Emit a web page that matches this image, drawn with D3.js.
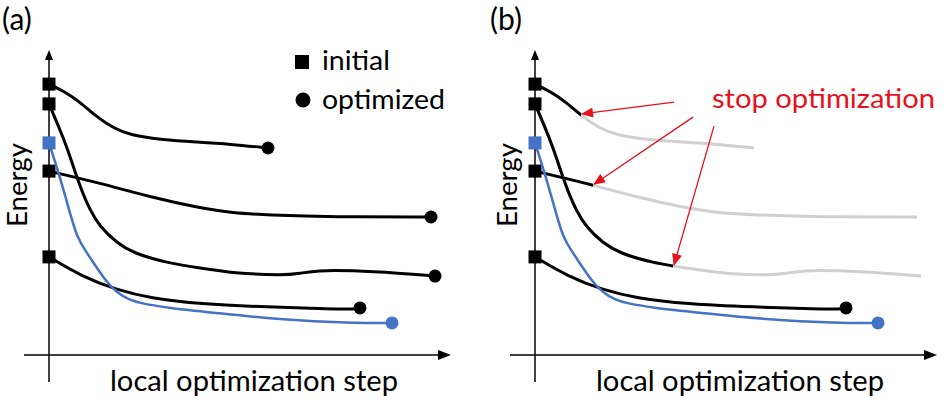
<!DOCTYPE html>
<html>
<head>
<meta charset="utf-8">
<script src="https://cdn.jsdelivr.net/npm/d3@7"></script>
<style>
  html, body { margin: 0; padding: 0; background: #fff; }
  svg { display: block; }
  text { font-family: Lato, "Open Sans", sans-serif; }
</style>
</head>
<body>
<svg id="chart" width="950" height="402"></svg>
<script>
// ---- Data (abstract units: step 0..100, energy 0..100) ----
const panelLabels = ["(a)", "(b)"];
const xLabel = "local optimization step";
const yLabel = "Energy";
const legendLabels = ["initial", "optimized"];
const annotationLabel = "stop optimization";

const curve1Steps  = [0, 4, 7.75, 12, 16, 20.25, 28.5, 37, 45.25, 54.75];
const curve1Energy = [90.3, 87.7, 84.3, 79.3, 75.7, 73.3, 71.7, 71, 70.3, 69];

const curve2Steps  = [0, 2.25, 4.5, 7.75, 10.25, 12.75, 17, 21, 29.5, 37.75, 46, 58.5, 62.75, 67, 75.25, 87.75, 96.5];
const curve2Energy = [83.7, 76.7, 69.3, 56, 48.3, 42.7, 37.3, 34, 30.7, 29, 27.3, 26.5, 27.2, 28.2, 28.2, 27.3, 26.3];

const curve3Steps  = [0, 12.75, 25.25, 37.75, 46, 54.5, 71, 95.5];
const curve3Energy = [61.3, 57.3, 52.7, 49, 47.3, 46.7, 46, 46];

const curve4Steps  = [0, 8.5, 17, 25.25, 37.75, 54.5, 71, 76.5, 77.75];
const curve4Energy = [32.7, 26, 21.7, 19, 17, 16, 15.3, 15.3, 15.7];

const blueSteps  = [0, 2.75, 5.25, 7, 9, 11, 14, 17, 20.25, 22.75, 29.5, 42, 58.5, 75.25, 85.75];
const blueEnergy = [70.7, 59.3, 47.3, 39.3, 35, 31, 25, 20.7, 18.3, 17.3, 15.7, 14, 11.7, 10.7, 10.7];

// steps at which optimization is stopped in panel (b) (null = runs to the end)
const stopSteps = [11.5, 34.5, 14.5, null, null];

// arrow tails (step, energy) for panel (b), pointing at the stop points of curves 1, 3, 2
const arrowTailSteps  = [34.75, 39.5, 44.75];
const arrowTailEnergy = [84.3, 79.3, 76.3];
const arrowTargets    = [0, 2, 1];

// ---- Build ----
const BLACK = "#000000", BLUE = "#4472c4", GRAY = "#d0d0d0", RED = "#e8101c";
const series = [
  {s: curve1Steps, e: curve1Energy, color: BLACK},
  {s: curve2Steps, e: curve2Energy, color: BLACK},
  {s: curve3Steps, e: curve3Energy, color: BLACK},
  {s: curve4Steps, e: curve4Energy, color: BLACK},
  {s: blueSteps,   e: blueEnergy,   color: BLUE}
].map((d, i) => ({...d, stop: stopSteps[i], pts: d.s.map((v, j) => [v, d.e[j]])}));

const svg = d3.select("#chart");
const x = d3.scaleLinear().domain([0, 100]).range([49, 449]);
const y = d3.scaleLinear().domain([0, 100]).range([355, 55]);
const line = d3.line().x(d => x(d[0])).y(d => y(d[1])).curve(d3.curveBasis);

const defs = svg.append("defs");
defs.append("marker").attr("id", "redhead")
  .attr("markerUnits", "userSpaceOnUse")
  .attr("viewBox", "0 0 12 10").attr("refX", 11).attr("refY", 5)
  .attr("markerWidth", 13).attr("markerHeight", 10).attr("orient", "auto")
  .append("path").attr("d", "M0,0 L12,5 L0,10 Z").attr("fill", RED);

function drawAxes(g) {
  g.append("line").attr("x1", x(0)).attr("x2", x(0)).attr("y1", 58).attr("y2", 382)
    .attr("stroke", "#000").attr("stroke-width", 1.5);
  g.append("path").attr("d", `M${x(0)},50 L${x(0)-4},60 L${x(0)+4},60 Z`).attr("fill", "#000");
  g.append("line").attr("x1", 24).attr("x2", 441).attr("y1", y(0)).attr("y2", y(0))
    .attr("stroke", "#000").attr("stroke-width", 1.5);
  g.append("path").attr("d", `M451,${y(0)} L438,${y(0)-5} L438,${y(0)+5} Z`).attr("fill", "#000");
}

function drawPanel(offset, idx, stopped) {
  const g = svg.append("g").attr("transform", `translate(${offset},0)`);
  drawAxes(g);
  g.append("text").attr("x", idx === 0 ? 2 : 4).attr("y", 30)
    .attr("font-size", 30).text(panelLabels[idx]);
  g.append("text").attr("transform", `translate(${idx === 0 ? 27 : 31},185) rotate(-90)`)
    .attr("text-anchor", "middle").attr("font-size", 27)
    .attr("textLength", 84).attr("lengthAdjust", "spacingAndGlyphs").text(yLabel);
  g.append("text").attr("x", 110).attr("y", 391).attr("font-size", 29)
    .attr("textLength", 288).attr("lengthAdjust", "spacingAndGlyphs").text(xLabel);

  series.forEach((d, i) => {
    if (stopped && d.stop != null) {
      g.append("path").attr("d", line(d.pts)).attr("fill", "none")
        .attr("stroke", GRAY).attr("stroke-width", 3);
      const cid = `clip${idx}_${i}`;
      defs.append("clipPath").attr("id", cid).append("rect")
        .attr("x", 0).attr("y", 0).attr("width", x(d.stop)).attr("height", 402);
      g.append("path").attr("d", line(d.pts)).attr("fill", "none")
        .attr("stroke", d.color).attr("stroke-width", 3).attr("clip-path", `url(#${cid})`);
    } else {
      g.append("path").attr("d", line(d.pts)).attr("fill", "none")
        .attr("stroke", d.color).attr("stroke-width", d.color === BLUE ? 2.5 : 3);
      const last = d.pts[d.pts.length - 1];
      g.append("circle").attr("cx", x(last[0])).attr("cy", y(last[1])).attr("r", 6.5).attr("fill", d.color);
    }
    const first = d.pts[0];
    g.append("rect").attr("x", x(first[0]) - 6.5).attr("y", y(first[1]) - 6.5)
      .attr("width", 13).attr("height", 13).attr("fill", d.color);
  });
  return g;
}

const ga = drawPanel(0, 0, false);
// legend (panel a)
ga.append("rect").attr("x", 295).attr("y", 55).attr("width", 14).attr("height", 14).attr("fill", BLACK);
ga.append("text").attr("x", 322).attr("y", 70).attr("font-size", 26)
  .attr("textLength", 68).attr("lengthAdjust", "spacingAndGlyphs").text(legendLabels[0]);
ga.append("circle").attr("cx", 303).attr("cy", 100).attr("r", 7.5).attr("fill", BLACK);
ga.append("text").attr("x", 322).attr("y", 109).attr("font-size", 26)
  .attr("textLength", 123).attr("lengthAdjust", "spacingAndGlyphs").text(legendLabels[1]);

const gb = drawPanel(486, 1, true);
gb.append("text").attr("x", 226).attr("y", 108).attr("font-size", 26).attr("fill", RED)
  .attr("textLength", 223).attr("lengthAdjust", "spacingAndGlyphs").text(annotationLabel);

arrowTailSteps.forEach((ts, k) => {
  const d = series[arrowTargets[k]];
  // locate the point on the drawn curve at the stop step
  const tmp = gb.append("path").attr("d", line(d.pts)).attr("fill", "none").attr("stroke", "none");
  const node = tmp.node(), L = node.getTotalLength();
  const targetX = x(d.stop);
  let lo = 0, hi = L;
  for (let it = 0; it < 40; it++) {
    const mid = (lo + hi) / 2;
    if (node.getPointAtLength(mid).x < targetX) lo = mid; else hi = mid;
  }
  const p = node.getPointAtLength(lo);
  tmp.remove();
  gb.append("line").attr("x1", x(ts)).attr("y1", y(arrowTailEnergy[k]))
    .attr("x2", p.x + 1).attr("y2", p.y - 1)
    .attr("stroke", RED).attr("stroke-width", 1.3).attr("marker-end", "url(#redhead)");
});
</script>
</body>
</html>
